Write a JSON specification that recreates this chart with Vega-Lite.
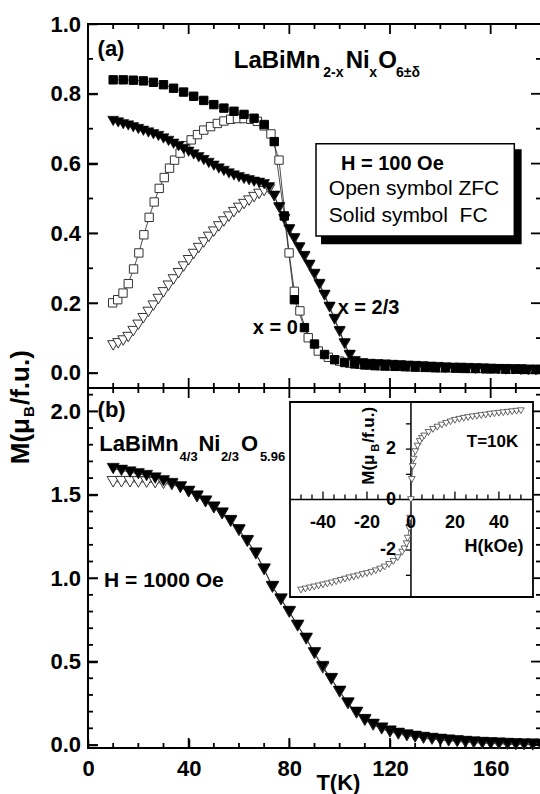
{
"$schema": "https://vega.github.io/schema/vega-lite/v6.json",
"padding": {"left": 7, "top": 12, "right": 0, "bottom": 0},
"background": "white",
"config": {
 "font": "Liberation Sans",
 "view": {"stroke": "#000", "strokeWidth": 2},
 "axis": {"grid": false, "domain": false, "tickColor": "#000", "tickWidth": 1.5, "labelColor": "#000", "labelFont": "Liberation Sans", "labelFontWeight": "bold", "labelFontSize": 22, "labelFlush": false, "labelOverlap": false, "labelBound": false},
 "text": {"font": "Liberation Sans", "color": "#000"}
},
"datasets": {
 "a": [
{"s":"F0","T":10,"M":0.84},{"s":"F0","T":14,"M":0.84},{"s":"F0","T":18,"M":0.839},{"s":"F0","T":22,"M":0.837},{"s":"F0","T":26,"M":0.833},{"s":"F0","T":30,"M":0.826},{"s":"F0","T":34,"M":0.816},{"s":"F0","T":38,"M":0.805},{"s":"F0","T":42,"M":0.793},{"s":"F0","T":46,"M":0.781},{"s":"F0","T":50,"M":0.769},{"s":"F0","T":54,"M":0.759},{"s":"F0","T":58,"M":0.75},{"s":"F0","T":62,"M":0.741},{"s":"F0","T":66,"M":0.73},{"s":"F0","T":70,"M":0.712},{"s":"F0","T":74,"M":0.663},{"s":"F0","T":78,"M":0.45},{"s":"F0","T":82,"M":0.21},{"s":"F0","T":86,"M":0.13},{"s":"F0","T":90,"M":0.083},{"s":"F0","T":94,"M":0.053},{"s":"F0","T":98,"M":0.038},{"s":"F0","T":102,"M":0.03},{"s":"F0","T":106,"M":0.026},{"s":"F0","T":110,"M":0.023},{"s":"F0","T":114,"M":0.021},{"s":"F0","T":118,"M":0.02},{"s":"F0","T":122,"M":0.019},{"s":"F0","T":126,"M":0.018},{"s":"F0","T":130,"M":0.017},{"s":"F0","T":134,"M":0.016},{"s":"F0","T":138,"M":0.015},{"s":"F0","T":142,"M":0.015},{"s":"F0","T":146,"M":0.014},{"s":"F0","T":150,"M":0.013},{"s":"F0","T":154,"M":0.013},{"s":"F0","T":158,"M":0.012},{"s":"F0","T":162,"M":0.012},{"s":"F0","T":166,"M":0.011},{"s":"F0","T":170,"M":0.011},{"s":"F0","T":174,"M":0.01},{"s":"F0","T":178,"M":0.01},
{"s":"Z0","T":9.8,"M":0.201},{"s":"Z0","T":11.8,"M":0.21},{"s":"Z0","T":13.9,"M":0.229},{"s":"Z0","T":16,"M":0.256},{"s":"Z0","T":18.1,"M":0.298},{"s":"Z0","T":20.2,"M":0.344},{"s":"Z0","T":22.2,"M":0.396},{"s":"Z0","T":24.3,"M":0.446},{"s":"Z0","T":26.3,"M":0.49},{"s":"Z0","T":28.3,"M":0.529},{"s":"Z0","T":30.3,"M":0.56},{"s":"Z0","T":32.4,"M":0.587},{"s":"Z0","T":34.4,"M":0.61},{"s":"Z0","T":36.6,"M":0.63},{"s":"Z0","T":38.8,"M":0.651},{"s":"Z0","T":41,"M":0.668},{"s":"Z0","T":43.5,"M":0.683},{"s":"Z0","T":46,"M":0.696},{"s":"Z0","T":48.7,"M":0.706},{"s":"Z0","T":51.4,"M":0.715},{"s":"Z0","T":54,"M":0.722},{"s":"Z0","T":56.7,"M":0.727},{"s":"Z0","T":59.4,"M":0.729},{"s":"Z0","T":62,"M":0.729},{"s":"Z0","T":64.7,"M":0.727},{"s":"Z0","T":67.3,"M":0.721},{"s":"Z0","T":70,"M":0.708},{"s":"Z0","T":72.7,"M":0.685},{"s":"Z0","T":75.9,"M":0.61},{"s":"Z0","T":79.9,"M":0.344},{"s":"Z0","T":82,"M":0.234},{"s":"Z0","T":84.2,"M":0.178},{"s":"Z0","T":87.5,"M":0.101},{"s":"Z0","T":91.5,"M":0.063},{"s":"Z0","T":95.5,"M":0.045},{"s":"Z0","T":100,"M":0.034},{"s":"Z0","T":104,"M":0.028},{"s":"Z0","T":108,"M":0.025},{"s":"Z0","T":112,"M":0.023},{"s":"Z0","T":116,"M":0.021},{"s":"Z0","T":120,"M":0.02},{"s":"Z0","T":124,"M":0.019},{"s":"Z0","T":128,"M":0.018},{"s":"Z0","T":132,"M":0.017},{"s":"Z0","T":136,"M":0.016},{"s":"Z0","T":140,"M":0.015},{"s":"Z0","T":144,"M":0.015},{"s":"Z0","T":148,"M":0.014},{"s":"Z0","T":152,"M":0.013},{"s":"Z0","T":156,"M":0.013},{"s":"Z0","T":160,"M":0.012},{"s":"Z0","T":164,"M":0.012},{"s":"Z0","T":168,"M":0.011},{"s":"Z0","T":172,"M":0.011},{"s":"Z0","T":176,"M":0.01},{"s":"Z0","T":180,"M":0.01},
{"s":"F2","T":10,"M":0.722},{"s":"F2","T":12,"M":0.718},{"s":"F2","T":14,"M":0.713},{"s":"F2","T":16,"M":0.709},{"s":"F2","T":18,"M":0.704},{"s":"F2","T":20,"M":0.699},{"s":"F2","T":22,"M":0.694},{"s":"F2","T":24,"M":0.689},{"s":"F2","T":26,"M":0.684},{"s":"F2","T":28,"M":0.679},{"s":"F2","T":30,"M":0.672},{"s":"F2","T":32,"M":0.665},{"s":"F2","T":34,"M":0.657},{"s":"F2","T":36,"M":0.65},{"s":"F2","T":38,"M":0.642},{"s":"F2","T":40,"M":0.634},{"s":"F2","T":42,"M":0.626},{"s":"F2","T":44,"M":0.618},{"s":"F2","T":46,"M":0.61},{"s":"F2","T":48,"M":0.602},{"s":"F2","T":50,"M":0.594},{"s":"F2","T":52,"M":0.586},{"s":"F2","T":54,"M":0.579},{"s":"F2","T":56,"M":0.572},{"s":"F2","T":58,"M":0.566},{"s":"F2","T":60,"M":0.561},{"s":"F2","T":62,"M":0.556},{"s":"F2","T":64,"M":0.552},{"s":"F2","T":66,"M":0.548},{"s":"F2","T":68,"M":0.545},{"s":"F2","T":70,"M":0.541},{"s":"F2","T":72,"M":0.532},{"s":"F2","T":74,"M":0.508},{"s":"F2","T":76,"M":0.475},{"s":"F2","T":78,"M":0.442},{"s":"F2","T":80,"M":0.412},{"s":"F2","T":82,"M":0.386},{"s":"F2","T":84,"M":0.36},{"s":"F2","T":86,"M":0.335},{"s":"F2","T":88,"M":0.31},{"s":"F2","T":90,"M":0.284},{"s":"F2","T":92,"M":0.255},{"s":"F2","T":94,"M":0.224},{"s":"F2","T":96,"M":0.19},{"s":"F2","T":98,"M":0.155},{"s":"F2","T":100,"M":0.12},{"s":"F2","T":102,"M":0.085},{"s":"F2","T":104,"M":0.052},{"s":"F2","T":106,"M":0.034},{"s":"F2","T":109,"M":0.028},{"s":"F2","T":112,"M":0.026},{"s":"F2","T":115,"M":0.025},{"s":"F2","T":118,"M":0.024},{"s":"F2","T":121,"M":0.023},{"s":"F2","T":124,"M":0.022},{"s":"F2","T":127,"M":0.021},{"s":"F2","T":130,"M":0.02},{"s":"F2","T":133,"M":0.019},{"s":"F2","T":136,"M":0.018},{"s":"F2","T":139,"M":0.017},{"s":"F2","T":142,"M":0.016},{"s":"F2","T":145,"M":0.015},{"s":"F2","T":148,"M":0.015},{"s":"F2","T":151,"M":0.014},{"s":"F2","T":154,"M":0.013},{"s":"F2","T":157,"M":0.013},{"s":"F2","T":160,"M":0.012},{"s":"F2","T":163,"M":0.011},{"s":"F2","T":166,"M":0.011},{"s":"F2","T":169,"M":0.01},{"s":"F2","T":172,"M":0.01},{"s":"F2","T":175,"M":0.009},{"s":"F2","T":178,"M":0.009},
{"s":"Z2","T":10,"M":0.079},{"s":"Z2","T":12,"M":0.085},{"s":"Z2","T":14,"M":0.093},{"s":"Z2","T":16,"M":0.103},{"s":"Z2","T":18,"M":0.12},{"s":"Z2","T":20,"M":0.138},{"s":"Z2","T":22,"M":0.157},{"s":"Z2","T":24,"M":0.175},{"s":"Z2","T":26,"M":0.193},{"s":"Z2","T":28,"M":0.212},{"s":"Z2","T":30,"M":0.231},{"s":"Z2","T":32,"M":0.25},{"s":"Z2","T":34,"M":0.268},{"s":"Z2","T":36,"M":0.286},{"s":"Z2","T":38,"M":0.305},{"s":"Z2","T":40,"M":0.323},{"s":"Z2","T":42,"M":0.341},{"s":"Z2","T":44,"M":0.358},{"s":"Z2","T":46,"M":0.374},{"s":"Z2","T":48,"M":0.39},{"s":"Z2","T":50,"M":0.405},{"s":"Z2","T":52,"M":0.42},{"s":"Z2","T":54,"M":0.434},{"s":"Z2","T":56,"M":0.448},{"s":"Z2","T":58,"M":0.461},{"s":"Z2","T":60,"M":0.473},{"s":"Z2","T":62,"M":0.484},{"s":"Z2","T":64,"M":0.494},{"s":"Z2","T":66,"M":0.504},{"s":"Z2","T":68,"M":0.513},{"s":"Z2","T":70,"M":0.521},{"s":"Z2","T":72,"M":0.526},{"s":"Z2","T":74,"M":0.506},{"s":"Z2","T":76,"M":0.473},{"s":"Z2","T":78,"M":0.44},{"s":"Z2","T":80,"M":0.41},{"s":"Z2","T":82,"M":0.384},{"s":"Z2","T":84,"M":0.358},{"s":"Z2","T":86,"M":0.333},{"s":"Z2","T":88,"M":0.308},{"s":"Z2","T":90,"M":0.282},{"s":"Z2","T":92,"M":0.253},{"s":"Z2","T":94,"M":0.222},{"s":"Z2","T":96,"M":0.188},{"s":"Z2","T":98,"M":0.153},{"s":"Z2","T":100,"M":0.118},{"s":"Z2","T":102,"M":0.083},{"s":"Z2","T":104,"M":0.05},{"s":"Z2","T":106,"M":0.032},{"s":"Z2","T":109,"M":0.026},{"s":"Z2","T":112,"M":0.024},{"s":"Z2","T":115,"M":0.023},{"s":"Z2","T":118,"M":0.022},{"s":"Z2","T":121,"M":0.021},{"s":"Z2","T":124,"M":0.02},{"s":"Z2","T":127,"M":0.019},{"s":"Z2","T":130,"M":0.018},{"s":"Z2","T":136,"M":0.016},{"s":"Z2","T":142,"M":0.014},{"s":"Z2","T":148,"M":0.013},{"s":"Z2","T":154,"M":0.012},{"s":"Z2","T":160,"M":0.011},{"s":"Z2","T":166,"M":0.01},{"s":"Z2","T":172,"M":0.009},{"s":"Z2","T":178,"M":0.008}
 ],
 "b": [
{"s":"F","T":10,"M":1.657},{"s":"F","T":13.3,"M":1.646},{"s":"F","T":16.7,"M":1.636},{"s":"F","T":20,"M":1.626},{"s":"F","T":23.3,"M":1.615},{"s":"F","T":26.7,"M":1.6},{"s":"F","T":30,"M":1.584},{"s":"F","T":33.3,"M":1.567},{"s":"F","T":36.7,"M":1.546},{"s":"F","T":40,"M":1.52},{"s":"F","T":43.3,"M":1.492},{"s":"F","T":46.7,"M":1.462},{"s":"F","T":50,"M":1.426},{"s":"F","T":53.3,"M":1.39},{"s":"F","T":56.7,"M":1.345},{"s":"F","T":60,"M":1.29},{"s":"F","T":63.3,"M":1.225},{"s":"F","T":66.7,"M":1.15},{"s":"F","T":70,"M":1.055},{"s":"F","T":73.3,"M":0.95},{"s":"F","T":76.7,"M":0.875},{"s":"F","T":80,"M":0.8},{"s":"F","T":83.3,"M":0.718},{"s":"F","T":86.7,"M":0.64},{"s":"F","T":90,"M":0.553},{"s":"F","T":93.3,"M":0.47},{"s":"F","T":96.7,"M":0.398},{"s":"F","T":100,"M":0.322},{"s":"F","T":103.3,"M":0.252},{"s":"F","T":106.7,"M":0.196},{"s":"F","T":110,"M":0.152},{"s":"F","T":113.3,"M":0.124},{"s":"F","T":116.7,"M":0.101},{"s":"F","T":120,"M":0.083},{"s":"F","T":123.3,"M":0.07},{"s":"F","T":126.7,"M":0.06},{"s":"F","T":130,"M":0.052},{"s":"F","T":133.3,"M":0.045},{"s":"F","T":136.7,"M":0.039},{"s":"F","T":140,"M":0.034},{"s":"F","T":143.3,"M":0.029},{"s":"F","T":146.7,"M":0.025},{"s":"F","T":150,"M":0.021},{"s":"F","T":153.3,"M":0.018},{"s":"F","T":156.7,"M":0.015},{"s":"F","T":160,"M":0.013},{"s":"F","T":163.3,"M":0.011},{"s":"F","T":166.7,"M":0.009},{"s":"F","T":170,"M":0.007},{"s":"F","T":173.3,"M":0.006},{"s":"F","T":176.7,"M":0.005},{"s":"F","T":180,"M":0.004},
{"s":"Z","T":10,"M":1.578},{"s":"Z","T":13.3,"M":1.578},{"s":"Z","T":16.7,"M":1.578},{"s":"Z","T":20,"M":1.577},{"s":"Z","T":23.3,"M":1.576},{"s":"Z","T":26.7,"M":1.573},{"s":"Z","T":30,"M":1.569},{"s":"Z","T":33.3,"M":1.561},{"s":"Z","T":36.7,"M":1.545},{"s":"Z","T":40,"M":1.518},{"s":"Z","T":43.3,"M":1.488},{"s":"Z","T":46.7,"M":1.458},{"s":"Z","T":50,"M":1.422},{"s":"Z","T":53.3,"M":1.386},{"s":"Z","T":56.7,"M":1.341},{"s":"Z","T":60,"M":1.286},{"s":"Z","T":63.3,"M":1.221},{"s":"Z","T":66.7,"M":1.146},{"s":"Z","T":70,"M":1.051},{"s":"Z","T":73.3,"M":0.946},{"s":"Z","T":76.7,"M":0.871},{"s":"Z","T":80,"M":0.796},{"s":"Z","T":83.3,"M":0.714},{"s":"Z","T":86.7,"M":0.636},{"s":"Z","T":90,"M":0.549},{"s":"Z","T":93.3,"M":0.462},{"s":"Z","T":96.7,"M":0.394},{"s":"Z","T":100,"M":0.318},{"s":"Z","T":103.3,"M":0.248},{"s":"Z","T":106.7,"M":0.192},{"s":"Z","T":110,"M":0.148},{"s":"Z","T":113.3,"M":0.12},{"s":"Z","T":116.7,"M":0.097},{"s":"Z","T":120,"M":0.079},{"s":"Z","T":123.3,"M":0.066},{"s":"Z","T":126.7,"M":0.056},{"s":"Z","T":130,"M":0.048},{"s":"Z","T":133.3,"M":0.041},{"s":"Z","T":136.7,"M":0.035},{"s":"Z","T":140,"M":0.03},{"s":"Z","T":143.3,"M":0.025},{"s":"Z","T":146.7,"M":0.021},{"s":"Z","T":150,"M":0.017},{"s":"Z","T":153.3,"M":0.014},{"s":"Z","T":156.7,"M":0.011},{"s":"Z","T":160,"M":0.009},{"s":"Z","T":163.3,"M":0.007},{"s":"Z","T":166.7,"M":0.005},{"s":"Z","T":170,"M":0.003},{"s":"Z","T":173.3,"M":0.002},{"s":"Z","T":176.7,"M":0.001},{"s":"Z","T":180,"M":0}
 ],
 "ins": [
{"H":-50,"M":-3.58},{"H":-48,"M":-3.54},{"H":-46,"M":-3.5},{"H":-44,"M":-3.46},{"H":-42,"M":-3.42},{"H":-40,"M":-3.38},{"H":-38,"M":-3.34},{"H":-36,"M":-3.3},{"H":-34,"M":-3.25},{"H":-32,"M":-3.2},{"H":-30,"M":-3.15},{"H":-28,"M":-3.1},{"H":-26,"M":-3.06},{"H":-24,"M":-3.02},{"H":-22,"M":-2.97},{"H":-20,"M":-2.93},{"H":-18,"M":-2.88},{"H":-16,"M":-2.82},{"H":-14,"M":-2.75},{"H":-12,"M":-2.67},{"H":-10,"M":-2.57},{"H":-8,"M":-2.45},{"H":-6,"M":-2.3},{"H":-4,"M":-2.08},{"H":-3,"M":-1.95},{"H":-2,"M":-1.75},{"H":-1.5,"M":-1.53},{"H":-0.8,"M":-1.14},{"H":-0.4,"M":-0.74},{"H":0,"M":0},
{"H":0.4,"M":0.8},{"H":0.8,"M":1.31},{"H":1.2,"M":1.6},{"H":2,"M":1.9},{"H":3,"M":2.12},{"H":4,"M":2.3},{"H":5,"M":2.42},{"H":6,"M":2.52},{"H":8,"M":2.66},{"H":10,"M":2.78},{"H":12,"M":2.87},{"H":14,"M":2.95},{"H":16,"M":3.02},{"H":18,"M":3.08},{"H":20,"M":3.14},{"H":22,"M":3.18},{"H":24,"M":3.22},{"H":26,"M":3.25},{"H":28,"M":3.28},{"H":30,"M":3.3},{"H":32,"M":3.33},{"H":34,"M":3.35},{"H":36,"M":3.38},{"H":38,"M":3.4},{"H":40,"M":3.42},{"H":42,"M":3.44},{"H":44,"M":3.46},{"H":46,"M":3.48},{"H":48,"M":3.5},{"H":50,"M":3.52}
 ],
 "xMaj": [{"v":0},{"v":40},{"v":80},{"v":120},{"v":160}],
 "xMin": [{"v":10},{"v":20},{"v":30},{"v":50},{"v":60},{"v":70},{"v":90},{"v":100},{"v":110},{"v":130},{"v":140},{"v":150},{"v":170}],
 "yMajA": [{"v":0},{"v":0.2},{"v":0.4},{"v":0.6},{"v":0.8},{"v":1}],
 "yMinA": [{"v":0.1},{"v":0.3},{"v":0.5},{"v":0.7},{"v":0.9}],
 "yMajB": [{"v":0},{"v":0.5},{"v":1},{"v":1.5},{"v":2}],
 "yMinB": [{"v":0.1},{"v":0.2},{"v":0.3},{"v":0.4},{"v":0.6},{"v":0.7},{"v":0.8},{"v":0.9},{"v":1.1},{"v":1.2},{"v":1.3},{"v":1.4},{"v":1.6},{"v":1.7},{"v":1.8},{"v":1.9},{"v":2.1}],
 "hMin": [{"v":-50},{"v":-45},{"v":-35},{"v":-30},{"v":-25},{"v":-15},{"v":-10},{"v":-5},{"v":5},{"v":10},{"v":15},{"v":25},{"v":30},{"v":35},{"v":45},{"v":50}],
 "hMaj": [{"v":-40},{"v":-20},{"v":20},{"v":40}],
 "hLab": [{"v":-40},{"v":-20},{"v":0},{"v":20},{"v":40}],
 "mTick": [{"v":-3},{"v":-2},{"v":-1},{"v":1},{"v":2},{"v":3}],
 "mLab": [{"v":-2},{"v":0},{"v":2}]
},
"spacing": 0,
"bounds": "flush",
"vconcat": [
{
 "width": 453, "height": 364,
 "resolve": {"axis": {"x": "independent", "y": "independent"}},
 "layer": [
  {"data": {"name": "a"}, "mark": {"type": "line", "stroke": "#222", "strokeWidth": 0.8},
   "encoding": {
    "x": {"field": "T", "type": "quantitative", "scale": {"domain": [0, 180], "nice": false, "zero": false}, "axis": null},
    "y": {"field": "M", "type": "quantitative", "scale": {"domain": [-0.043, 1], "nice": false, "zero": false}, "axis": null},
    "detail": {"field": "s", "type": "nominal"}}},
  {"data": {"name": "a"}, "transform": [{"filter": "datum.s === 'Z0'"}], "mark": {"type": "point", "shape": "square", "filled": true, "fill": "#fff", "stroke": "#333", "strokeWidth": 1, "size": 70, "opacity": 1},
   "encoding": {
    "x": {"field": "T", "type": "quantitative", "scale": {"domain": [0, 180], "nice": false, "zero": false}, "axis": null},
    "y": {"field": "M", "type": "quantitative", "scale": {"domain": [-0.043, 1], "nice": false, "zero": false}, "axis": {"orient": "left", "offset": -9, "values": [0,0.2,0.4,0.6,0.8,1], "tickSize": 9, "format": ".1f", "labelPadding": 7.5, "title": null}}}},
  {"data": {"name": "a"}, "transform": [{"filter": "datum.s === 'Z2'"}], "mark": {"type": "point", "shape": "triangle-down", "filled": true, "fill": "#fff", "stroke": "#333", "strokeWidth": 1, "size": 120, "opacity": 1},
   "encoding": {
    "x": {"field": "T", "type": "quantitative", "scale": {"domain": [0, 180], "nice": false, "zero": false}, "axis": null},
    "y": {"field": "M", "type": "quantitative", "scale": {"domain": [-0.043, 1], "nice": false, "zero": false}, "axis": null}}},
  {"data": {"name": "a"}, "transform": [{"filter": "datum.s === 'F0'"}], "mark": {"type": "point", "shape": "square", "filled": true, "fill": "#000", "stroke": "#000", "strokeWidth": 1, "size": 70, "opacity": 1},
   "encoding": {
    "x": {"field": "T", "type": "quantitative", "scale": {"domain": [0, 180], "nice": false, "zero": false}, "axis": null},
    "y": {"field": "M", "type": "quantitative", "scale": {"domain": [-0.043, 1], "nice": false, "zero": false}, "axis": null}}},
  {"data": {"name": "a"}, "transform": [{"filter": "datum.s === 'F2'"}], "mark": {"type": "point", "shape": "triangle-down", "filled": true, "fill": "#000", "stroke": "#000", "strokeWidth": 0.5, "size": 120, "opacity": 1},
   "encoding": {
    "x": {"field": "T", "type": "quantitative", "scale": {"domain": [0, 180], "nice": false, "zero": false}, "axis": null},
    "y": {"field": "M", "type": "quantitative", "scale": {"domain": [-0.043, 1], "nice": false, "zero": false}, "axis": null}}},
  {"data": {"values": [{}]}, "mark": {"type": "rect", "fill": "#000"},
   "encoding": {"x": {"datum": 92.6, "type": "quantitative", "scale": {"domain": [0, 180], "nice": false, "zero": false}, "axis": null}, "x2": {"datum": 172.3},
    "y": {"datum": 0.641, "type": "quantitative", "scale": {"domain": [-0.043, 1], "nice": false, "zero": false}, "axis": null}, "y2": {"datum": 0.369}}},
  {"data": {"values": [{}]}, "mark": {"type": "rect", "fill": "#fff", "stroke": "#000", "strokeWidth": 1.5},
   "encoding": {"x": {"datum": 90.6, "type": "quantitative", "scale": {"domain": [0, 180], "nice": false, "zero": false}, "axis": null}, "x2": {"datum": 169.4},
    "y": {"datum": 0.657, "type": "quantitative", "scale": {"domain": [-0.043, 1], "nice": false, "zero": false}, "axis": null}, "y2": {"datum": 0.3926}}},
  {"data": {"values": [{}]}, "mark": {"type": "text", "text": "H = 100 Oe", "fontSize": 20, "fontWeight": "bold", "align": "left", "baseline": "middle"},
   "encoding": {"x": {"datum": 100.5, "type": "quantitative", "scale": {"domain": [0, 180], "nice": false, "zero": false}, "axis": null}, "y": {"datum": 0.598, "type": "quantitative", "scale": {"domain": [-0.043, 1], "nice": false, "zero": false}, "axis": null}}},
  {"data": {"values": [{}]}, "mark": {"type": "text", "text": "Open symbol ZFC", "fontSize": 21, "fontWeight": "normal", "align": "left", "baseline": "middle"},
   "encoding": {"x": {"datum": 95.7, "type": "quantitative", "scale": {"domain": [0, 180], "nice": false, "zero": false}, "axis": null}, "y": {"datum": 0.526, "type": "quantitative", "scale": {"domain": [-0.043, 1], "nice": false, "zero": false}, "axis": null}}},
  {"data": {"values": [{}]}, "mark": {"type": "text", "text": "Solid symbol \u00a0FC", "fontSize": 21, "fontWeight": "normal", "align": "left", "baseline": "middle"},
   "encoding": {"x": {"datum": 95.7, "type": "quantitative", "scale": {"domain": [0, 180], "nice": false, "zero": false}, "axis": null}, "y": {"datum": 0.45, "type": "quantitative", "scale": {"domain": [-0.043, 1], "nice": false, "zero": false}, "axis": null}}},
  {"data": {"values": [{}]}, "mark": {"type": "text", "text": "(a)", "fontSize": 22, "fontWeight": "bold", "align": "left", "baseline": "middle"},
   "encoding": {"x": {"datum": 3.8, "type": "quantitative", "scale": {"domain": [0, 180], "nice": false, "zero": false}, "axis": null}, "y": {"datum": 0.927, "type": "quantitative", "scale": {"domain": [-0.043, 1], "nice": false, "zero": false}, "axis": null}}},
  {"data": {"values": [{}]}, "mark": {"type": "text", "text": "LaBiMn", "fontSize": 24, "fontWeight": "bold", "align": "left", "baseline": "alphabetic"},
   "encoding": {"x": {"datum": 57.9, "type": "quantitative", "scale": {"domain": [0, 180], "nice": false, "zero": false}, "axis": null}, "y": {"datum": 0.875, "type": "quantitative", "scale": {"domain": [-0.043, 1], "nice": false, "zero": false}, "axis": null}}},
  {"data": {"values": [{}]}, "mark": {"type": "text", "text": "2-x", "fontSize": 14, "fontWeight": "bold", "align": "left", "baseline": "alphabetic"},
   "encoding": {"x": {"datum": 93.5, "type": "quantitative", "scale": {"domain": [0, 180], "nice": false, "zero": false}, "axis": null}, "y": {"datum": 0.848, "type": "quantitative", "scale": {"domain": [-0.043, 1], "nice": false, "zero": false}, "axis": null}}},
  {"data": {"values": [{}]}, "mark": {"type": "text", "text": "Ni", "fontSize": 24, "fontWeight": "bold", "align": "left", "baseline": "alphabetic"},
   "encoding": {"x": {"datum": 102.4, "type": "quantitative", "scale": {"domain": [0, 180], "nice": false, "zero": false}, "axis": null}, "y": {"datum": 0.875, "type": "quantitative", "scale": {"domain": [-0.043, 1], "nice": false, "zero": false}, "axis": null}}},
  {"data": {"values": [{}]}, "mark": {"type": "text", "text": "x", "fontSize": 14, "fontWeight": "bold", "align": "left", "baseline": "alphabetic"},
   "encoding": {"x": {"datum": 111.8, "type": "quantitative", "scale": {"domain": [0, 180], "nice": false, "zero": false}, "axis": null}, "y": {"datum": 0.848, "type": "quantitative", "scale": {"domain": [-0.043, 1], "nice": false, "zero": false}, "axis": null}}},
  {"data": {"values": [{}]}, "mark": {"type": "text", "text": "O", "fontSize": 24, "fontWeight": "bold", "align": "left", "baseline": "alphabetic"},
   "encoding": {"x": {"datum": 115.3, "type": "quantitative", "scale": {"domain": [0, 180], "nice": false, "zero": false}, "axis": null}, "y": {"datum": 0.875, "type": "quantitative", "scale": {"domain": [-0.043, 1], "nice": false, "zero": false}, "axis": null}}},
  {"data": {"values": [{}]}, "mark": {"type": "text", "text": "6±δ", "fontSize": 14, "fontWeight": "bold", "align": "left", "baseline": "alphabetic"},
   "encoding": {"x": {"datum": 122.4, "type": "quantitative", "scale": {"domain": [0, 180], "nice": false, "zero": false}, "axis": null}, "y": {"datum": 0.848, "type": "quantitative", "scale": {"domain": [-0.043, 1], "nice": false, "zero": false}, "axis": null}}},
  {"data": {"values": [{}]}, "mark": {"type": "text", "text": "x = 0", "fontSize": 20, "fontWeight": "bold", "align": "right", "baseline": "middle"},
   "encoding": {"x": {"datum": 83.4, "type": "quantitative", "scale": {"domain": [0, 180], "nice": false, "zero": false}, "axis": null}, "y": {"datum": 0.13, "type": "quantitative", "scale": {"domain": [-0.043, 1], "nice": false, "zero": false}, "axis": null}}},
  {"data": {"values": [{}]}, "mark": {"type": "text", "text": "x = 2/3", "fontSize": 20, "fontWeight": "bold", "align": "left", "baseline": "middle"},
   "encoding": {"x": {"datum": 99.2, "type": "quantitative", "scale": {"domain": [0, 180], "nice": false, "zero": false}, "axis": null}, "y": {"datum": 0.185, "type": "quantitative", "scale": {"domain": [-0.043, 1], "nice": false, "zero": false}, "axis": null}}},
  {"data": {"name": "xMaj"}, "mark": {"type": "rule", "color": "#000", "strokeWidth": 1.8},
   "encoding": {"x": {"field": "v", "type": "quantitative", "scale": {"domain": [0, 180], "nice": false, "zero": false}, "axis": null}, "y": {"datum": -0.043, "type": "quantitative", "scale": {"domain": [-0.043, 1], "nice": false, "zero": false}, "axis": null}, "y2": {"datum": -0.0143}}},
  {"data": {"name": "xMaj"}, "mark": {"type": "rule", "color": "#000", "strokeWidth": 1.8},
   "encoding": {"x": {"field": "v", "type": "quantitative", "scale": {"domain": [0, 180], "nice": false, "zero": false}, "axis": null}, "y": {"datum": 1, "type": "quantitative", "scale": {"domain": [-0.043, 1], "nice": false, "zero": false}, "axis": null}, "y2": {"datum": 0.9713}}},
  {"data": {"name": "xMin"}, "mark": {"type": "rule", "color": "#000", "strokeWidth": 1.8},
   "encoding": {"x": {"field": "v", "type": "quantitative", "scale": {"domain": [0, 180], "nice": false, "zero": false}, "axis": null}, "y": {"datum": -0.043, "type": "quantitative", "scale": {"domain": [-0.043, 1], "nice": false, "zero": false}, "axis": null}, "y2": {"datum": -0.0287}}},
  {"data": {"name": "xMin"}, "mark": {"type": "rule", "color": "#000", "strokeWidth": 1.8},
   "encoding": {"x": {"field": "v", "type": "quantitative", "scale": {"domain": [0, 180], "nice": false, "zero": false}, "axis": null}, "y": {"datum": 1, "type": "quantitative", "scale": {"domain": [-0.043, 1], "nice": false, "zero": false}, "axis": null}, "y2": {"datum": 0.9857}}},
  {"data": {"name": "yMajA"}, "mark": {"type": "rule", "color": "#000", "strokeWidth": 1.8},
   "encoding": {"y": {"field": "v", "type": "quantitative", "scale": {"domain": [-0.043, 1], "nice": false, "zero": false}, "axis": null}, "x": {"datum": 0, "type": "quantitative", "scale": {"domain": [0, 180], "nice": false, "zero": false}, "axis": null}, "x2": {"datum": 3.97}}},
  {"data": {"name": "yMajA"}, "mark": {"type": "rule", "color": "#000", "strokeWidth": 1.8},
   "encoding": {"y": {"field": "v", "type": "quantitative", "scale": {"domain": [-0.043, 1], "nice": false, "zero": false}, "axis": null}, "x": {"datum": 180, "type": "quantitative", "scale": {"domain": [0, 180], "nice": false, "zero": false}, "axis": null}, "x2": {"datum": 176.03}}},
  {"data": {"name": "yMinA"}, "mark": {"type": "rule", "color": "#000", "strokeWidth": 1.8},
   "encoding": {"y": {"field": "v", "type": "quantitative", "scale": {"domain": [-0.043, 1], "nice": false, "zero": false}, "axis": null}, "x": {"datum": 0, "type": "quantitative", "scale": {"domain": [0, 180], "nice": false, "zero": false}, "axis": null}, "x2": {"datum": 1.99}}},
  {"data": {"name": "yMinA"}, "mark": {"type": "rule", "color": "#000", "strokeWidth": 1.8},
   "encoding": {"y": {"field": "v", "type": "quantitative", "scale": {"domain": [-0.043, 1], "nice": false, "zero": false}, "axis": null}, "x": {"datum": 180, "type": "quantitative", "scale": {"domain": [0, 180], "nice": false, "zero": false}, "axis": null}, "x2": {"datum": 178.01}}}
 ]
},
{
 "width": 453, "height": 360,
 "resolve": {"scale": {"x": "independent", "y": "independent"}, "axis": {"x": "independent", "y": "independent"}},
 "layer": [
  {"data": {"name": "b"}, "mark": {"type": "line", "stroke": "#222", "strokeWidth": 0.8},
   "encoding": {
    "x": {"field": "T", "type": "quantitative", "scale": {"domain": [0, 180], "nice": false, "zero": false}, "axis": null},
    "y": {"field": "M", "type": "quantitative", "scale": {"domain": [-0.018, 2.14], "nice": false, "zero": false}, "axis": null},
    "detail": {"field": "s", "type": "nominal"}}},
  {"data": {"name": "b"}, "transform": [{"filter": "datum.s === 'Z'"}], "mark": {"type": "point", "shape": "triangle-down", "filled": true, "fill": "#fff", "stroke": "#333", "strokeWidth": 1, "size": 150, "opacity": 1},
   "encoding": {
    "x": {"field": "T", "type": "quantitative", "scale": {"domain": [0, 180], "nice": false, "zero": false}, "axis": {"orient": "bottom", "offset": -9, "values": [0,40,80,120,160], "tickSize": 9, "labelPadding": 10.5, "title": null}},
    "y": {"field": "M", "type": "quantitative", "scale": {"domain": [-0.018, 2.14], "nice": false, "zero": false}, "axis": {"orient": "left", "offset": -9, "values": [0,0.5,1,1.5,2], "tickSize": 9, "format": ".1f", "labelPadding": 7.5, "title": null}}}},
  {"data": {"name": "b"}, "transform": [{"filter": "datum.s === 'F'"}], "mark": {"type": "point", "shape": "triangle-down", "filled": true, "fill": "#000", "stroke": "#000", "strokeWidth": 0.5, "size": 150, "opacity": 1},
   "encoding": {
    "x": {"field": "T", "type": "quantitative", "scale": {"domain": [0, 180], "nice": false, "zero": false}, "axis": null},
    "y": {"field": "M", "type": "quantitative", "scale": {"domain": [-0.018, 2.14], "nice": false, "zero": false}, "axis": null}}},
  {"data": {"values": [{}]}, "mark": {"type": "text", "text": "(b)", "fontSize": 22, "fontWeight": "bold", "align": "left", "baseline": "middle"},
   "encoding": {"x": {"datum": 3.8, "type": "quantitative", "scale": {"domain": [0, 180], "nice": false, "zero": false}, "axis": null}, "y": {"datum": 2.01, "type": "quantitative", "scale": {"domain": [-0.018, 2.14], "nice": false, "zero": false}, "axis": null}}},
  {"data": {"values": [{}]}, "mark": {"type": "text", "text": "LaBiMn", "fontSize": 22, "fontWeight": "bold", "align": "left", "baseline": "alphabetic"},
   "encoding": {"x": {"datum": 4.5, "type": "quantitative", "scale": {"domain": [0, 180], "nice": false, "zero": false}, "axis": null}, "y": {"datum": 1.763, "type": "quantitative", "scale": {"domain": [-0.018, 2.14], "nice": false, "zero": false}, "axis": null}}},
  {"data": {"values": [{}]}, "mark": {"type": "text", "text": "4/3", "fontSize": 13, "fontWeight": "bold", "align": "left", "baseline": "alphabetic"},
   "encoding": {"x": {"datum": 36.4, "type": "quantitative", "scale": {"domain": [0, 180], "nice": false, "zero": false}, "axis": null}, "y": {"datum": 1.703, "type": "quantitative", "scale": {"domain": [-0.018, 2.14], "nice": false, "zero": false}, "axis": null}}},
  {"data": {"values": [{}]}, "mark": {"type": "text", "text": "Ni", "fontSize": 22, "fontWeight": "bold", "align": "left", "baseline": "alphabetic"},
   "encoding": {"x": {"datum": 43.9, "type": "quantitative", "scale": {"domain": [0, 180], "nice": false, "zero": false}, "axis": null}, "y": {"datum": 1.763, "type": "quantitative", "scale": {"domain": [-0.018, 2.14], "nice": false, "zero": false}, "axis": null}}},
  {"data": {"values": [{}]}, "mark": {"type": "text", "text": "2/3", "fontSize": 13, "fontWeight": "bold", "align": "left", "baseline": "alphabetic"},
   "encoding": {"x": {"datum": 52.8, "type": "quantitative", "scale": {"domain": [0, 180], "nice": false, "zero": false}, "axis": null}, "y": {"datum": 1.703, "type": "quantitative", "scale": {"domain": [-0.018, 2.14], "nice": false, "zero": false}, "axis": null}}},
  {"data": {"values": [{}]}, "mark": {"type": "text", "text": "O", "fontSize": 22, "fontWeight": "bold", "align": "left", "baseline": "alphabetic"},
   "encoding": {"x": {"datum": 60.8, "type": "quantitative", "scale": {"domain": [0, 180], "nice": false, "zero": false}, "axis": null}, "y": {"datum": 1.763, "type": "quantitative", "scale": {"domain": [-0.018, 2.14], "nice": false, "zero": false}, "axis": null}}},
  {"data": {"values": [{}]}, "mark": {"type": "text", "text": "5.96", "fontSize": 13, "fontWeight": "bold", "align": "left", "baseline": "alphabetic"},
   "encoding": {"x": {"datum": 68.3, "type": "quantitative", "scale": {"domain": [0, 180], "nice": false, "zero": false}, "axis": null}, "y": {"datum": 1.703, "type": "quantitative", "scale": {"domain": [-0.018, 2.14], "nice": false, "zero": false}, "axis": null}}},
  {"data": {"values": [{}]}, "mark": {"type": "text", "text": "H = 1000 Oe", "fontSize": 21, "fontWeight": "bold", "align": "left", "baseline": "middle"},
   "encoding": {"x": {"datum": 6.4, "type": "quantitative", "scale": {"domain": [0, 180], "nice": false, "zero": false}, "axis": null}, "y": {"datum": 0.982, "type": "quantitative", "scale": {"domain": [-0.018, 2.14], "nice": false, "zero": false}, "axis": null}}},
  {"data": {"values": [{}]}, "mark": {"type": "text", "text": "T(K)", "fontSize": 22, "fontWeight": "bold", "align": "center", "baseline": "middle"},
   "encoding": {"x": {"datum": 99.5, "type": "quantitative", "scale": {"domain": [0, 180], "nice": false, "zero": false}, "axis": null}, "y": {"datum": -0.23, "type": "quantitative", "scale": {"domain": [-0.018, 2.14], "nice": false, "zero": false}, "axis": null}}},
  {"data": {"values": [{}]}, "mark": {"type": "text", "text": "M(μ", "fontSize": 26, "fontWeight": "bold", "angle": 270, "align": "left", "baseline": "alphabetic"},
   "encoding": {"x": {"datum": -23.4, "type": "quantitative", "scale": {"domain": [0, 180], "nice": false, "zero": false}, "axis": null}, "y": {"datum": 1.683, "type": "quantitative", "scale": {"domain": [-0.018, 2.14], "nice": false, "zero": false}, "axis": null}}},
  {"data": {"values": [{}]}, "mark": {"type": "text", "text": "B", "fontSize": 15, "fontWeight": "bold", "angle": 270, "align": "left", "baseline": "alphabetic"},
   "encoding": {"x": {"datum": -21.3, "type": "quantitative", "scale": {"domain": [0, 180], "nice": false, "zero": false}, "axis": null}, "y": {"datum": 1.966, "type": "quantitative", "scale": {"domain": [-0.018, 2.14], "nice": false, "zero": false}, "axis": null}}},
  {"data": {"values": [{}]}, "mark": {"type": "text", "text": "/f.u.)", "fontSize": 26, "fontWeight": "bold", "angle": 270, "align": "left", "baseline": "alphabetic"},
   "encoding": {"x": {"datum": -23.4, "type": "quantitative", "scale": {"domain": [0, 180], "nice": false, "zero": false}, "axis": null}, "y": {"datum": 2.038, "type": "quantitative", "scale": {"domain": [-0.018, 2.14], "nice": false, "zero": false}, "axis": null}}},
  {"data": {"name": "xMaj"}, "mark": {"type": "rule", "color": "#000", "strokeWidth": 1.8},
   "encoding": {"x": {"field": "v", "type": "quantitative", "scale": {"domain": [0, 180], "nice": false, "zero": false}, "axis": null}, "y": {"datum": -0.018, "type": "quantitative", "scale": {"domain": [-0.018, 2.14], "nice": false, "zero": false}, "axis": null}, "y2": {"datum": 0.042}}},
  {"data": {"name": "xMaj"}, "mark": {"type": "rule", "color": "#000", "strokeWidth": 1.8},
   "encoding": {"x": {"field": "v", "type": "quantitative", "scale": {"domain": [0, 180], "nice": false, "zero": false}, "axis": null}, "y": {"datum": 2.14, "type": "quantitative", "scale": {"domain": [-0.018, 2.14], "nice": false, "zero": false}, "axis": null}, "y2": {"datum": 2.08}}},
  {"data": {"name": "xMin"}, "mark": {"type": "rule", "color": "#000", "strokeWidth": 1.8},
   "encoding": {"x": {"field": "v", "type": "quantitative", "scale": {"domain": [0, 180], "nice": false, "zero": false}, "axis": null}, "y": {"datum": -0.018, "type": "quantitative", "scale": {"domain": [-0.018, 2.14], "nice": false, "zero": false}, "axis": null}, "y2": {"datum": 0.012}}},
  {"data": {"name": "xMin"}, "mark": {"type": "rule", "color": "#000", "strokeWidth": 1.8},
   "encoding": {"x": {"field": "v", "type": "quantitative", "scale": {"domain": [0, 180], "nice": false, "zero": false}, "axis": null}, "y": {"datum": 2.14, "type": "quantitative", "scale": {"domain": [-0.018, 2.14], "nice": false, "zero": false}, "axis": null}, "y2": {"datum": 2.11}}},
  {"data": {"name": "yMajB"}, "mark": {"type": "rule", "color": "#000", "strokeWidth": 1.8},
   "encoding": {"y": {"field": "v", "type": "quantitative", "scale": {"domain": [-0.018, 2.14], "nice": false, "zero": false}, "axis": null}, "x": {"datum": 0, "type": "quantitative", "scale": {"domain": [0, 180], "nice": false, "zero": false}, "axis": null}, "x2": {"datum": 3.97}}},
  {"data": {"name": "yMajB"}, "mark": {"type": "rule", "color": "#000", "strokeWidth": 1.8},
   "encoding": {"y": {"field": "v", "type": "quantitative", "scale": {"domain": [-0.018, 2.14], "nice": false, "zero": false}, "axis": null}, "x": {"datum": 180, "type": "quantitative", "scale": {"domain": [0, 180], "nice": false, "zero": false}, "axis": null}, "x2": {"datum": 176.03}}},
  {"data": {"name": "yMinB"}, "mark": {"type": "rule", "color": "#000", "strokeWidth": 1.8},
   "encoding": {"y": {"field": "v", "type": "quantitative", "scale": {"domain": [-0.018, 2.14], "nice": false, "zero": false}, "axis": null}, "x": {"datum": 0, "type": "quantitative", "scale": {"domain": [0, 180], "nice": false, "zero": false}, "axis": null}, "x2": {"datum": 1.99}}},
  {"data": {"name": "yMinB"}, "mark": {"type": "rule", "color": "#000", "strokeWidth": 1.8},
   "encoding": {"y": {"field": "v", "type": "quantitative", "scale": {"domain": [-0.018, 2.14], "nice": false, "zero": false}, "axis": null}, "x": {"datum": 180, "type": "quantitative", "scale": {"domain": [0, 180], "nice": false, "zero": false}, "axis": null}, "x2": {"datum": 178.01}}},
  {"data": {"values": [{}]}, "mark": {"type": "rect", "fill": "#fff", "stroke": "#000", "strokeWidth": 1.8},
   "encoding": {"x": {"datum": -55, "type": "quantitative", "scale": {"domain": [-146.86, 59.14], "nice": false, "zero": false}, "axis": null}, "x2": {"datum": 55.5},
    "y": {"datum": -3.857, "type": "quantitative", "scale": {"domain": [-9.838, 4.42], "nice": false, "zero": false}, "axis": null}, "y2": {"datum": 3.865}}},
  {"data": {"values": [{}]}, "mark": {"type": "rule", "color": "#000", "strokeWidth": 1.5},
   "encoding": {"x": {"datum": -55, "type": "quantitative", "scale": {"domain": [-146.86, 59.14], "nice": false, "zero": false}, "axis": null}, "x2": {"datum": 55.5},
    "y": {"datum": 0, "type": "quantitative", "scale": {"domain": [-9.838, 4.42], "nice": false, "zero": false}, "axis": null}}},
  {"data": {"values": [{}]}, "mark": {"type": "rule", "color": "#000", "strokeWidth": 1.5},
   "encoding": {"x": {"datum": 0, "type": "quantitative", "scale": {"domain": [-146.86, 59.14], "nice": false, "zero": false}, "axis": null},
    "y": {"datum": -3.857, "type": "quantitative", "scale": {"domain": [-9.838, 4.42], "nice": false, "zero": false}, "axis": null}, "y2": {"datum": 3.865}}},
  {"data": {"name": "hMin"}, "mark": {"type": "rule", "color": "#000", "strokeWidth": 1.3},
   "encoding": {"x": {"field": "v", "type": "quantitative", "scale": {"domain": [-146.86, 59.14], "nice": false, "zero": false}, "axis": null}, "y": {"datum": 0, "type": "quantitative", "scale": {"domain": [-9.838, 4.42], "nice": false, "zero": false}, "axis": null}, "y2": {"datum": 0.2}}},
  {"data": {"name": "hMaj"}, "mark": {"type": "rule", "color": "#000", "strokeWidth": 1.3},
   "encoding": {"x": {"field": "v", "type": "quantitative", "scale": {"domain": [-146.86, 59.14], "nice": false, "zero": false}, "axis": null}, "y": {"datum": 0, "type": "quantitative", "scale": {"domain": [-9.838, 4.42], "nice": false, "zero": false}, "axis": null}, "y2": {"datum": 0.32}}},
  {"data": {"name": "mTick"}, "mark": {"type": "rule", "color": "#000", "strokeWidth": 1.3},
   "encoding": {"y": {"field": "v", "type": "quantitative", "scale": {"domain": [-9.838, 4.42], "nice": false, "zero": false}, "axis": null}, "x": {"datum": -2.3, "type": "quantitative", "scale": {"domain": [-146.86, 59.14], "nice": false, "zero": false}, "axis": null}, "x2": {"datum": 0}}},
  {"data": {"name": "ins"}, "mark": {"type": "line", "stroke": "#555", "strokeWidth": 0.8},
   "encoding": {
    "x": {"field": "H", "type": "quantitative", "scale": {"domain": [-146.86, 59.14], "nice": false, "zero": false}, "axis": null},
    "y": {"field": "M", "type": "quantitative", "scale": {"domain": [-9.838, 4.42], "nice": false, "zero": false}, "axis": null}}},
  {"data": {"name": "ins"}, "mark": {"type": "point", "shape": "triangle-down", "filled": true, "fill": "#fff", "stroke": "#444", "strokeWidth": 0.8, "size": 45, "opacity": 1},
   "encoding": {
    "x": {"field": "H", "type": "quantitative", "scale": {"domain": [-146.86, 59.14], "nice": false, "zero": false}, "axis": null},
    "y": {"field": "M", "type": "quantitative", "scale": {"domain": [-9.838, 4.42], "nice": false, "zero": false}, "axis": null}}},
  {"data": {"name": "mLab"}, "mark": {"type": "text", "fontSize": 18, "fontWeight": "bold", "align": "right", "baseline": "middle"},
   "encoding": {"text": {"field": "v", "type": "nominal"}, "y": {"field": "v", "type": "quantitative", "scale": {"domain": [-9.838, 4.42], "nice": false, "zero": false}, "axis": null}, "x": {"datum": -6.8, "type": "quantitative", "scale": {"domain": [-146.86, 59.14], "nice": false, "zero": false}, "axis": null}}},
  {"data": {"name": "hLab"}, "mark": {"type": "text", "fontSize": 18, "fontWeight": "bold", "align": "center", "baseline": "middle"},
   "encoding": {"text": {"field": "v", "type": "nominal"}, "x": {"field": "v", "type": "quantitative", "scale": {"domain": [-146.86, 59.14], "nice": false, "zero": false}, "axis": null}, "y": {"datum": -0.907, "type": "quantitative", "scale": {"domain": [-9.838, 4.42], "nice": false, "zero": false}, "axis": null}}},
  {"data": {"values": [{}]}, "mark": {"type": "text", "text": "T=10K", "fontSize": 17, "fontWeight": "bold", "align": "center", "baseline": "middle"},
   "encoding": {"x": {"datum": 37.1, "type": "quantitative", "scale": {"domain": [-146.86, 59.14], "nice": false, "zero": false}, "axis": null}, "y": {"datum": 2.3, "type": "quantitative", "scale": {"domain": [-9.838, 4.42], "nice": false, "zero": false}, "axis": null}}},
  {"data": {"values": [{}]}, "mark": {"type": "text", "text": "H(kOe)", "fontSize": 18, "fontWeight": "bold", "align": "center", "baseline": "middle"},
   "encoding": {"x": {"datum": 37.8, "type": "quantitative", "scale": {"domain": [-146.86, 59.14], "nice": false, "zero": false}, "axis": null}, "y": {"datum": -1.86, "type": "quantitative", "scale": {"domain": [-9.838, 4.42], "nice": false, "zero": false}, "axis": null}}},
  {"data": {"values": [{}]}, "mark": {"type": "text", "text": "M(μ", "fontSize": 17, "fontWeight": "bold", "angle": 270, "align": "left", "baseline": "alphabetic"},
   "encoding": {"x": {"datum": -17, "type": "quantitative", "scale": {"domain": [-146.86, 59.14], "nice": false, "zero": false}, "axis": null}, "y": {"datum": 0.59, "type": "quantitative", "scale": {"domain": [-9.838, 4.42], "nice": false, "zero": false}, "axis": null}}},
  {"data": {"values": [{}]}, "mark": {"type": "text", "text": "B", "fontSize": 11, "fontWeight": "bold", "angle": 270, "align": "left", "baseline": "alphabetic"},
   "encoding": {"x": {"datum": -14.5, "type": "quantitative", "scale": {"domain": [-146.86, 59.14], "nice": false, "zero": false}, "axis": null}, "y": {"datum": 1.9, "type": "quantitative", "scale": {"domain": [-9.838, 4.42], "nice": false, "zero": false}, "axis": null}}},
  {"data": {"values": [{}]}, "mark": {"type": "text", "text": "/f.u.)", "fontSize": 17, "fontWeight": "bold", "angle": 270, "align": "left", "baseline": "alphabetic"},
   "encoding": {"x": {"datum": -17, "type": "quantitative", "scale": {"domain": [-146.86, 59.14], "nice": false, "zero": false}, "axis": null}, "y": {"datum": 2.25, "type": "quantitative", "scale": {"domain": [-9.838, 4.42], "nice": false, "zero": false}, "axis": null}}}
 ]
}
]
}
